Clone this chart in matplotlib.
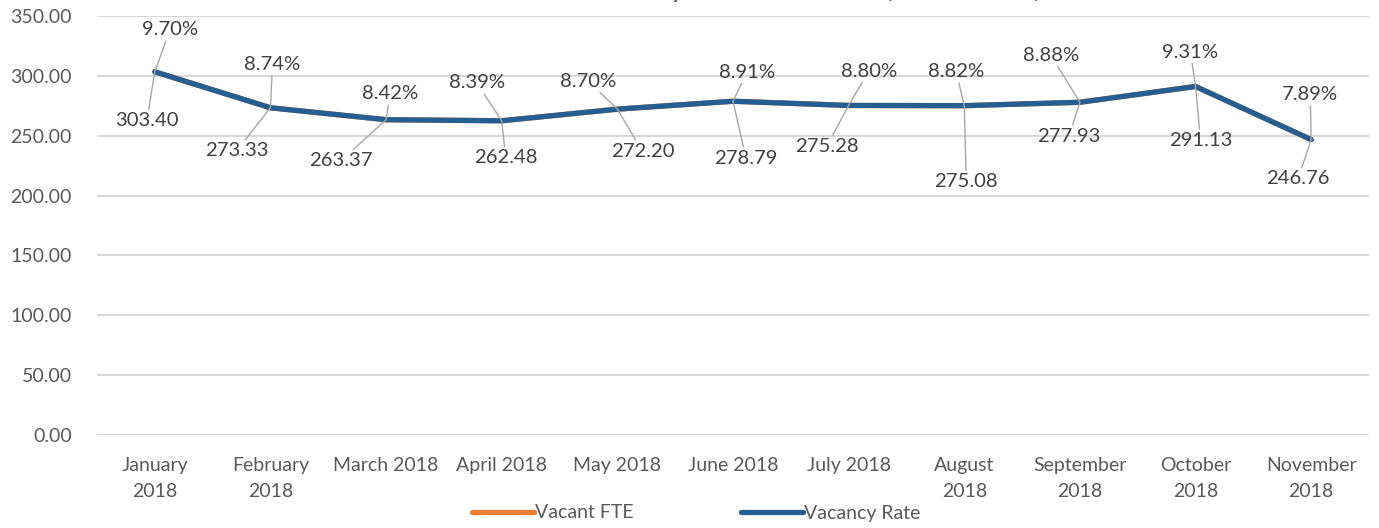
import matplotlib
matplotlib.use("Agg")
import matplotlib.pyplot as plt

months = ["January\n2018", "February\n2018", "March 2018", "April 2018", "May 2018",
          "June 2018", "July 2018", "August\n2018", "September\n2018", "October\n2018",
          "November\n2018"]
vacant_fte = [303.40, 273.33, 263.37, 262.48, 272.20, 278.79, 275.28, 275.08, 277.93, 291.13, 246.76]
vacancy_rate = [9.70, 8.74, 8.42, 8.39, 8.70, 8.91, 8.80, 8.82, 8.88, 9.31, 7.89]
y_ticks = [0, 50, 100, 150, 200, 250, 300, 350]

# label offsets in pixels (layout only)
pct_offsets = [(15, 42), (2, 43), (4, 26), (-25, 38), (-29, 28), (14, 29), (20, 34), (-8, 34), (-29, 47), (-5, 34), (-1, 45)]
val_offsets = [(-8, -49), (-34, -43), (-45, -41), (4, -37), (25, -42), (13, -57), (-22, -41), (2, -76), (-11, -34), (5, -54), (-13, -39)]

plt.rcParams['font.family'] = ['Lato', 'DejaVu Sans']
TXT = '#595959'
FS = 14

fig = plt.figure(figsize=(13.79, 5.28), dpi=100)
ax = fig.add_axes([97/1379, 1-435/528, (1369-97)/1379, (435-16)/528])

x = list(range(len(months)))
ax.plot(x, vacant_fte, color='#ED7D31', lw=3.8, solid_capstyle='round', label='Vacant FTE', zorder=3)
ax.plot(x, vacant_fte, color='#255E91', lw=3.8, solid_capstyle='round', label='Vacancy Rate', zorder=4)

for i in x:
    ax.annotate(f"{vacancy_rate[i]:.2f}%", xy=(i, vacant_fte[i]), xytext=pct_offsets[i],
                textcoords='offset pixels', ha='center', va='center', fontsize=14.6, color='#404040',
                arrowprops=dict(arrowstyle='-', color='#A6A6A6', lw=1.0, shrinkA=0, shrinkB=0), zorder=5)
    ax.annotate(f"{vacant_fte[i]:.2f}", xy=(i, vacant_fte[i]), xytext=val_offsets[i],
                textcoords='offset pixels', ha='center', va='center', fontsize=14.6, color='#404040',
                arrowprops=dict(arrowstyle='-', color='#A6A6A6', lw=1.0, shrinkA=0, shrinkB=0), zorder=5)

ax.set_xlim(-0.5, len(months) - 0.5)
ax.set_ylim(0, 350)
ax.set_yticks(y_ticks)
ax.set_yticklabels([f"{v:.2f}" for v in y_ticks])
ax.set_xticks(x)
ax.set_xticklabels(months, linespacing=1.6)
ax.tick_params(axis='both', length=0, colors=TXT, labelsize=FS)
ax.tick_params(axis='x', pad=16)
ax.tick_params(axis='y', pad=18)
ax.grid(axis='y', color='#D9D9D9', lw=1.5)
ax.set_axisbelow(True)
for s in ax.spines.values():
    s.set_visible(False)

leg = fig.legend(loc='center', bbox_to_anchor=(696/1379, 1-513/528), ncol=2, frameon=False,
                 fontsize=FS, handlelength=3.2, handletextpad=0.05, columnspacing=5.5)
for t in leg.get_texts():
    t.set_color(TXT)

fig.text(1040/1379, 1 + 2/528, "Vacancy Rate and Vacant FTE (Jan - Nov 2018)", ha='right',
         va='baseline', fontsize=15, fontweight='bold', color=TXT)

fig.savefig('out.png', dpi=100)
